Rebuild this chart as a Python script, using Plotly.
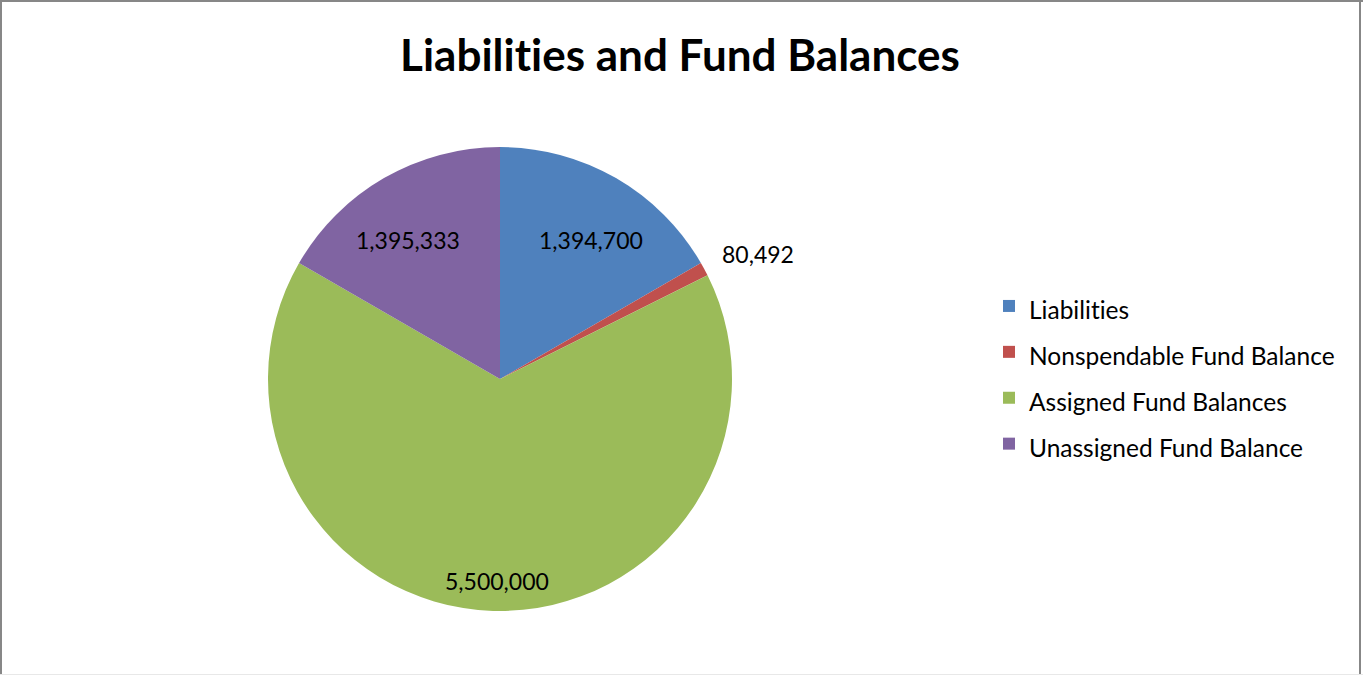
import math
import plotly.graph_objects as go

# Balance sheet components
categories = ["Liabilities", "Nonspendable Fund Balance", "Assigned Fund Balances", "Unassigned Fund Balance"]
amounts = [1394700, 80492, 5500000, 1395333]
colors = ["#4F81BD", "#C0504D", "#9BBB59", "#8064A2"]
# value label placement: fraction of the radius and angular nudge (degrees) from slice middle
label_radius = [0.716, 1.235, 0.87, 0.72]
label_nudge = [3.2, 2.4, -0.8, -3.5]

W, H = 1363, 675
CX, CY, R = 500, 379, 232  # pie centre and radius in pixels
FONT = "Lato"
NOLIGA = "font-variant-ligatures:none;font-feature-settings:'liga' 0"

fig = go.Figure()
fig.add_trace(go.Pie(
    labels=[f"<span style=\"font-size:24.5px;{NOLIGA}\">{c}</span>" for c in categories],
    values=amounts,
    sort=False,
    direction="clockwise",
    rotation=0,
    textinfo="none",
    hoverinfo="label+value",
    marker=dict(colors=colors, line=dict(width=0)),
    domain=dict(x=[(CX - R) / W, (CX + R) / W], y=[1 - (CY + R) / H, 1 - (CY - R) / H]),
))

# value labels placed around the middle angle of each slice
total = sum(amounts)
annotations = []
cum = 0.0
for v, f, nudge in zip(amounts, label_radius, label_nudge):
    mid = (cum + v / 2) / total * 2 * math.pi + math.radians(nudge)
    cum += v
    px = CX + f * R * math.sin(mid)
    py = CY - f * R * math.cos(mid)
    annotations.append(dict(
        x=px / W, y=1 - py / H, xref="paper", yref="paper",
        text=f"{v:,}", showarrow=False,
        font=dict(family=FONT, size=23, color="black"),
        xanchor="center", yanchor="middle",
    ))

border = "#878787"
shapes = [
    dict(type="line", xref="paper", yref="paper", x0=0, x1=1, y0=1 - 1 / H, y1=1 - 1 / H, line=dict(color=border, width=2)),
    dict(type="line", xref="paper", yref="paper", x0=1 / W, x1=1 / W, y0=0, y1=1, line=dict(color=border, width=2)),
    dict(type="line", xref="paper", yref="paper", x0=1360 / W, x1=1360 / W, y0=0, y1=1, line=dict(color=border, width=2)),
    dict(type="line", xref="paper", yref="paper", x0=0, x1=1, y0=0.5 / H, y1=0.5 / H, line=dict(color="#E8E8E8", width=1)),
]

fig.update_layout(
    width=W, height=H,
    margin=dict(l=0, r=0, t=0, b=0),
    paper_bgcolor="white",
    font=dict(family=FONT, color="black"),
    title=dict(
        text=f"<span style=\"{NOLIGA}\"><b>Liabilities and Fund Balances</b></span>",
        x=680 / W, xanchor="center", y=1 - 56 / H, yanchor="middle",
        font=dict(family=FONT, size=44, color="black"),
    ),
    showlegend=True,
    legend=dict(
        x=989 / W, y=1 - 278 / H, xanchor="left", yanchor="top",
        font=dict(family=FONT, size=33, color="black"),
        bgcolor="rgba(0,0,0,0)",
    ),
    annotations=annotations,
    shapes=shapes,
)

fig.write_html("out.html")
